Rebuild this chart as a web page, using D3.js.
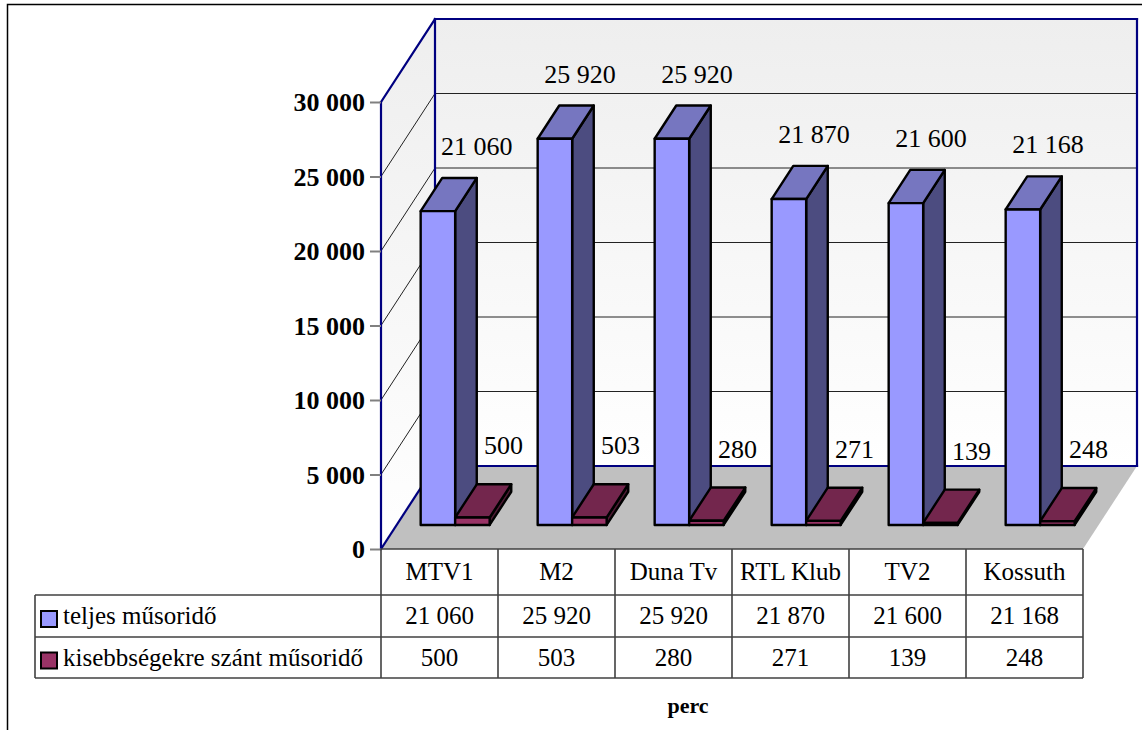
<!DOCTYPE html>
<html>
<head>
<meta charset="utf-8">
<script src="https://cdn.jsdelivr.net/npm/d3@7"></script>
<style>
  html, body { margin: 0; padding: 0; background: #fff; }
  svg { display: block; }
  svg text { font-family: 'Liberation Serif', serif; }
</style>
</head>
<body>
<svg id="chart" width="1142" height="730" font-family="Liberation Serif"></svg>
<script>
// ---- data ----
const categories = ["MTV1", "M2", "Duna Tv", "RTL Klub", "TV2", "Kossuth"];
const seriesNames = ["teljes műsoridő", "kisebbségekre szánt műsoridő"];
const teljes = [21060, 25920, 25920, 21870, 21600, 21168];
const kisebbseg = [500, 503, 280, 271, 139, 248];
const yTicks = [0, 5000, 10000, 15000, 20000, 25000, 30000];
const unitLabel = "perc";

// ---- styles ----
const FONT = "Liberation Serif";
const faceColors = [
  { front: "#9999FF", top: "#7676C0", side: "#4C4C80" },
  { front: "#993366", top: "#73264D", side: "#4D1A33" }
];
const navy = "#000080";

const svg = d3.select("#chart");
const locale = d3.formatLocale({ decimal: ",", thousands: " ", grouping: [3], currency: ["", ""] });
const fmt = locale.format(",d");

// geometry
const plotLeft = 381, plotRight = 1083;
const depthDX = 54, depthDY = -83;
const zFront = 0.29, zBack = 0.69;

const y = d3.scaleLinear().domain([0, 30000]).range([549, 102]);
const x = d3.scaleBand().domain(categories).range([0, plotRight - plotLeft]).paddingInner(0).paddingOuter(0);
const xs = d3.scaleBand().domain([0, 1]).range([0, x.bandwidth()]).paddingInner(0).paddingOuter(0.696);

function P(xp, v, z) {
  return [plotLeft + xp + z * depthDX, y(v) + z * depthDY];
}
const poly = pts => pts.map(p => p.join(",")).join(" ");

// outer frame
svg.append("rect").attr("x", 7.5).attr("y", 4.5).attr("width", 1160).attr("height", 760)
  .attr("fill", "none").attr("stroke", "#000").attr("stroke-width", 1.5);

// wall gradient
const defs = svg.append("defs");
const grad = defs.append("linearGradient").attr("id", "wallGrad").attr("x1", 0).attr("y1", 0).attr("x2", 0).attr("y2", 1);
grad.append("stop").attr("offset", "0%").attr("stop-color", "#EEEEEE");
grad.append("stop").attr("offset", "100%").attr("stop-color", "#FFFFFF");

const vMin = y.domain()[0], vMax = y.domain()[1];
const W = plotRight - plotLeft;

// back wall
svg.append("polygon")
  .attr("points", poly([P(0, vMax, 1), P(W, vMax, 1), P(W, vMin, 1), P(0, vMin, 1)]))
  .attr("fill", "url(#wallGrad)");
// left wall
svg.append("polygon")
  .attr("points", poly([P(0, vMax, 0), P(0, vMax, 1), P(0, vMin, 1), P(0, vMin, 0)]))
  .attr("fill", "url(#wallGrad)");
// floor
svg.append("polygon")
  .attr("points", poly([P(0, vMin, 0), P(W, vMin, 0), P(W, vMin, 1), P(0, vMin, 1)]))
  .attr("fill", "#C0C0C0");

// gridlines
const inner = yTicks.filter(t => t > vMin && t < vMax);
inner.forEach(t => {
  const a = P(0, t, 1), b = P(W, t, 1), c = P(0, t, 0);
  svg.append("line").attr("x1", a[0]).attr("y1", a[1]).attr("x2", b[0]).attr("y2", b[1])
    .attr("stroke", "#222").attr("stroke-width", 1);
  svg.append("line").attr("x1", c[0]).attr("y1", c[1]).attr("x2", a[0]).attr("y2", a[1])
    .attr("stroke", "#222").attr("stroke-width", 1);
});

// navy wall edges
const edges = [
  [P(0, vMin, 0), P(0, vMax, 0)],
  [P(0, vMax, 0), P(0, vMax, 1)],
  [P(0, vMax, 1), P(W, vMax, 1)],
  [P(W, vMax, 1), P(W, vMin, 1)],
  [P(0, vMax, 1), P(0, vMin, 1)],
  [P(0, vMin, 1), P(W, vMin, 1)],
  [P(0, vMin, 0), P(0, vMin, 1)]
];
edges.forEach(([a, b]) => {
  svg.append("line").attr("x1", a[0]).attr("y1", a[1]).attr("x2", b[0]).attr("y2", b[1])
    .attr("stroke", navy).attr("stroke-width", 2.2).attr("stroke-linecap", "square");
});

// y axis
const axisG = svg.append("g").attr("transform", `translate(${plotLeft},0)`)
  .call(d3.axisLeft(y).tickValues(yTicks).tickSize(11).tickPadding(5).tickFormat(fmt));
axisG.attr("font-family", FONT);
axisG.select(".domain").remove();
axisG.selectAll(".tick line").attr("stroke", "#808080").attr("stroke-width", 2);
axisG.selectAll(".tick text").attr("font-family", FONT).attr("font-size", 26)
  .attr("font-weight", "bold").attr("fill", "#000").attr("dy", "0.34em");

// bars
const allSeries = [teljes, kisebbseg];
const barsG = svg.append("g");
categories.forEach((cat, i) => {
  allSeries.forEach((vals, s) => {
    const v = vals[i];
    const x0 = x(cat) + xs(s), x1 = x0 + xs.bandwidth();
    const c = faceColors[s];
    const g = barsG.append("g");
    const common = sel => sel.attr("stroke", "#000").attr("stroke-width", 2.4).attr("stroke-linejoin", "round");
    g.append("polygon").attr("points", poly([P(x1, vMin, zFront), P(x1, vMin, zBack), P(x1, v, zBack), P(x1, v, zFront)]))
      .attr("fill", c.side).call(common);
    g.append("polygon").attr("points", poly([P(x0, v, zFront), P(x1, v, zFront), P(x1, v, zBack), P(x0, v, zBack)]))
      .attr("fill", c.top).call(common);
    g.append("polygon").attr("points", poly([P(x0, vMin, zFront), P(x1, vMin, zFront), P(x1, v, zFront), P(x0, v, zFront)]))
      .attr("fill", c.front).call(common);
  });
});

// value labels
const labelG = svg.append("g").attr("font-family", FONT);
const backWallX = P(0, vMin, 1)[0];
categories.forEach((cat, i) => {
  allSeries.forEach((vals, s) => {
    const v = vals[i];
    const x0 = x(cat) + xs(s), x1 = x0 + xs.bandwidth();
    const frontC = P((x0 + x1) / 2, v, zFront)[0];
    const backTop = P(x0, v, zBack)[1];
    const t = labelG.append("text").text(fmt(v))
      .attr("font-family", FONT).attr("font-size", 26).attr("fill", "#000").attr("text-anchor", "middle");
    let cx = frontC + (s === 0 ? 25 : 31);
    const w = t.node().getComputedTextLength();
    if (cx - w / 2 < backWallX + 6) cx = backWallX + 6 + w / 2;
    t.attr("x", cx).attr("y", backTop - (s === 0 ? 23 : 30));
  });
});

// data table
const tableLeft = 35;
const rowTops = [549, 595, 637, 678];
const tg = svg.append("g").attr("font-family", FONT);
const lineC = "#404040";
function hline(x1, x2, yy) {
  tg.append("line").attr("x1", x1).attr("x2", x2).attr("y1", yy).attr("y2", yy).attr("stroke", lineC).attr("stroke-width", 1.6);
}
function vline(xx, y1, y2) {
  tg.append("line").attr("x1", xx).attr("x2", xx).attr("y1", y1).attr("y2", y2).attr("stroke", lineC).attr("stroke-width", 1.6);
}
hline(plotLeft, plotRight, rowTops[0]);
hline(tableLeft, plotRight, rowTops[1]);
hline(tableLeft, plotRight, rowTops[2]);
hline(tableLeft, plotRight, rowTops[3]);
vline(tableLeft, rowTops[1], rowTops[3]);
categories.forEach(cat => vline(plotLeft + x(cat), rowTops[0], rowTops[3]));
vline(plotRight, rowTops[0], rowTops[3]);

const rowMid = k => (rowTops[k] + rowTops[k + 1]) / 2;
categories.forEach(cat => {
  tg.append("text").text(cat).attr("x", plotLeft + x(cat) + x.bandwidth() / 2).attr("y", rowMid(0) + 8)
    .attr("text-anchor", "middle").attr("font-family", FONT).attr("font-size", 25).attr("fill", "#000");
});
allSeries.forEach((vals, s) => {
  const ym = rowMid(s + 1);
  tg.append("rect").attr("x", 41).attr("y", ym - 5).attr("width", 16).attr("height", 16)
    .attr("fill", faceColors[s].front).attr("stroke", "#000").attr("stroke-width", 2);
  tg.append("text").text(seriesNames[s]).attr("x", 63).attr("y", ym + 8)
    .attr("font-family", FONT).attr("font-size", 25).attr("fill", "#000");
  vals.forEach((v, i) => {
    tg.append("text").text(fmt(v)).attr("x", plotLeft + x(categories[i]) + x.bandwidth() / 2).attr("y", ym + 8)
      .attr("text-anchor", "middle").attr("font-family", FONT).attr("font-size", 25).attr("fill", "#000");
  });
});

// unit label
svg.append("text").text(unitLabel).attr("x", 688).attr("y", 713).attr("text-anchor", "middle")
  .attr("font-family", FONT).attr("font-size", 22).attr("font-weight", "bold").attr("fill", "#000");
</script>
</body>
</html>
